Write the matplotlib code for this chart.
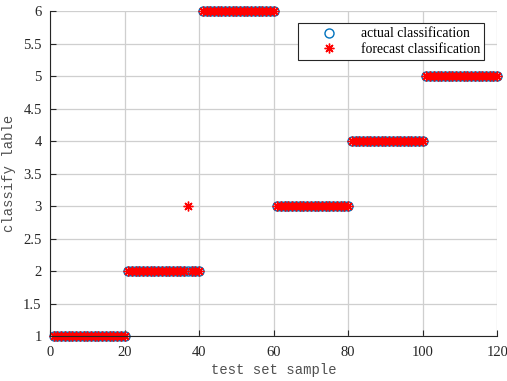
import numpy as np
import matplotlib.pyplot as plt

# class of each test sample (20 samples per block)
block_labels = [1, 2, 6, 3, 4, 5]
actual = np.repeat(block_labels, 20)
forecast = actual.copy()
forecast[36] = 3  # sample 37 misclassified
samples = np.arange(1, len(actual) + 1)

plt.rcParams['font.family'] = ['Liberation Serif', 'DejaVu Serif']

fig = plt.figure(figsize=(5.07, 3.81), dpi=100)
ax = fig.add_axes([0.0986, 0.118, 0.882, 0.853])

ax.plot(samples, actual, 'o', mfc='none', mec='#0072BD', ms=6.5, mew=1.0,
        clip_on=False, label='actual classification')
ax.plot(samples, forecast, marker=(8, 2, 0), ls='none', color='red', ms=7,
        mew=1.0, clip_on=False, label='forecast classification')

ax.set_xlim(0, 120)
ax.set_ylim(1, 6)
ax.set_xticks(np.arange(0, 121, 20))
ax.set_yticks(np.arange(1, 6.01, 0.5))
ax.set_yticklabels(['1', '1.5', '2', '2.5', '3', '3.5', '4', '4.5', '5', '5.5', '6'])
ax.grid(True, color='#cfcfcf', linewidth=0.9)
ax.set_axisbelow(True)
for s in ['top', 'right']:
    ax.spines[s].set_visible(False)
for s in ['left', 'bottom']:
    ax.spines[s].set_color('#262626')
    ax.spines[s].set_linewidth(0.8)
ax.tick_params(direction='in', length=4, width=0.8, labelsize=10.5,
               colors='#262626')
ax.tick_params(axis='x', pad=7)
ax.tick_params(axis='y', pad=6)

ax.set_xlabel('test set sample', fontsize=10, color='#505050',
              family='Liberation Mono', labelpad=3)
ax.set_ylabel('classify lable', fontsize=10, color='#505050',
              family='Liberation Mono', labelpad=5)

leg = ax.legend(loc='upper left', bbox_to_anchor=(0.555, 0.962), fontsize=9.8,
                fancybox=False, edgecolor='#262626', framealpha=1,
                borderpad=0.3, labelspacing=0.15, handlelength=4,
                handletextpad=0.3, borderaxespad=0)
leg.get_frame().set_linewidth(0.8)

fig.savefig('out.png', dpi=100)
